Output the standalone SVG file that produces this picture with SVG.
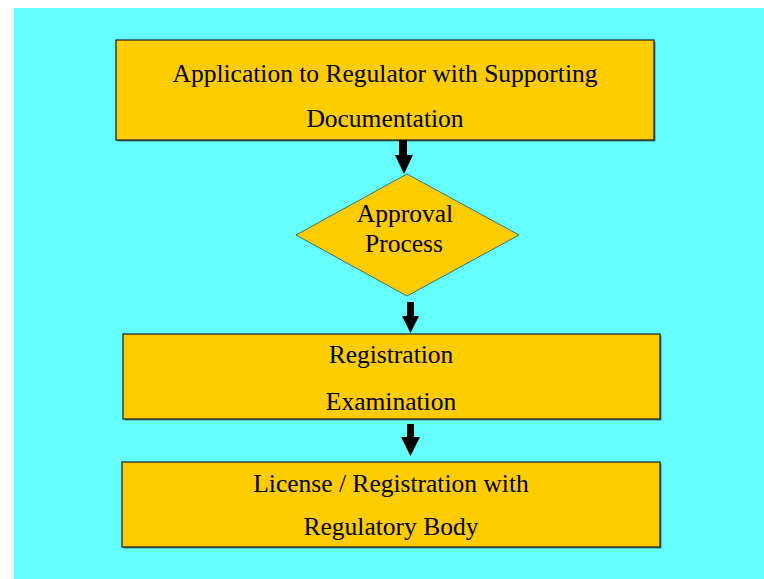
<svg xmlns="http://www.w3.org/2000/svg" width="764" height="579" viewBox="0 0 764 579">
<style>
.box{fill:#FFCC00;stroke:#1a1a1a;stroke-width:1.2}
.shadow{fill:#3f8a8a}
.t{font-family:"Liberation Serif","Times New Roman",serif;font-size:25.5px;fill:#000;text-anchor:middle}
.arr{fill:#000}
</style>
<rect x="0" y="0" width="764" height="579" fill="#ffffff"/>
<rect x="14" y="8" width="750" height="571" fill="#66FFFF"/>
<g id="node-application">
<rect class="shadow" x="117.5" y="41.5" width="538" height="100"/>
<rect class="box" x="116" y="40" width="538" height="100"/>
<text class="t" x="385" y="82">Application to Regulator with Supporting</text>
<text class="t" x="385" y="127">Documentation</text>
</g>
<g id="node-approval">
<polygon points="407,174 519,235 407,296 296,235" fill="#FFCC00" stroke="#1f4f6f" stroke-width="0.8"/>
<text class="t" x="405" y="222">Approval</text>
<text class="t" x="404" y="252">Process</text>
</g>
<g id="node-registration">
<rect class="shadow" x="124.5" y="335.5" width="537" height="85"/>
<rect class="box" x="123" y="334" width="537" height="85"/>
<text class="t" x="391" y="363">Registration</text>
<text class="t" x="391" y="410">Examination</text>
</g>
<g id="node-license">
<rect class="shadow" x="123.5" y="463.5" width="538" height="85"/>
<rect class="box" x="122" y="462" width="538" height="85"/>
<text class="t" x="391" y="492">License / Registration with</text>
<text class="t" x="391" y="535">Regulatory Body</text>
</g>
<g id="connectors">
<polygon class="arr" points="399,140 407,140 407,155 413,155 404,174 395,155 399,155"/>
<polygon class="arr" points="407,302 414,302 414,316 419,316 410.5,333 402,316 407,316"/>
<polygon class="arr" points="407,424 414,424 414,437 420,437 410.5,456 401,437 407,437"/>
</g>
</svg>
